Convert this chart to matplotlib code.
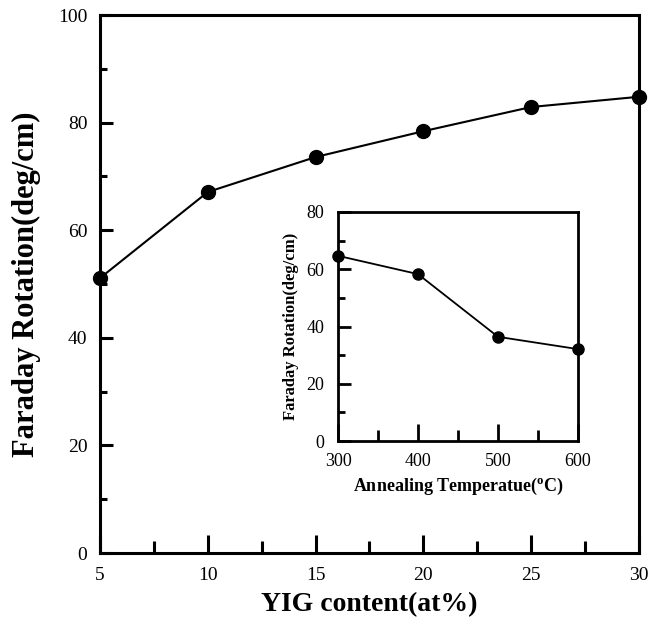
import numpy as np
import matplotlib.pyplot as plt
from matplotlib.ticker import MultipleLocator

plt.rcParams['font.family'] = ['Liberation Serif', 'DejaVu Serif']
plt.rcParams['mathtext.fontset'] = 'custom'
plt.rcParams['mathtext.rm'] = 'Liberation Serif'
plt.rcParams['mathtext.bf'] = 'Liberation Serif:bold'

# main data: YIG content vs Faraday rotation
yig = [5, 10, 15, 20, 25, 30]
rot = [51.1, 67.1, 73.6, 78.4, 82.9, 84.8]

# inset data: annealing temperature vs Faraday rotation
temp = [300, 400, 500, 600]
rot_t = [64.7, 58.3, 36.4, 32.1]

fig = plt.figure(figsize=(6.6, 6.28), dpi=100)
ax = fig.add_axes([100/660, 1-553/628, 539/660, 538/628])

ax.plot(yig, rot, '-o', color='black', lw=1.5, ms=10, clip_on=False, zorder=3)
ax.set_xlim(5, 30)
ax.set_ylim(0, 100)
ax.xaxis.set_major_locator(MultipleLocator(5))
ax.xaxis.set_minor_locator(MultipleLocator(2.5))
ax.yaxis.set_major_locator(MultipleLocator(20))
ax.yaxis.set_minor_locator(MultipleLocator(10))
ax.tick_params(which='both', direction='in', width=2.2, labelsize=14)
ax.tick_params(axis='x', which='major', length=13, pad=10)
ax.tick_params(axis='x', which='minor', length=9)
ax.tick_params(axis='y', which='major', length=9, pad=9)
ax.tick_params(axis='y', which='minor', length=5)
for s in ax.spines.values():
    s.set_linewidth(2.2)
ax.set_xlabel('YIG content(at%)', fontsize=20, fontweight='bold', labelpad=6)
ax.set_ylabel('Faraday Rotation(deg/cm)', fontsize=22, fontweight='bold', labelpad=12)

# inset
ins = fig.add_axes([338/660, 1-441/628, 240/660, 229/628])
ins.plot(temp, rot_t, '-o', color='black', lw=1.3, ms=8, clip_on=False, zorder=3)
ins.set_xlim(300, 600)
ins.set_ylim(0, 80)
ins.xaxis.set_major_locator(MultipleLocator(100))
ins.xaxis.set_minor_locator(MultipleLocator(50))
ins.yaxis.set_major_locator(MultipleLocator(20))
ins.yaxis.set_minor_locator(MultipleLocator(10))
ins.tick_params(which='both', direction='in', width=2, labelsize=13)
ins.tick_params(axis='x', which='major', length=12, pad=9)
ins.tick_params(axis='x', which='minor', length=8)
ins.tick_params(axis='y', which='major', length=9, pad=10)
ins.tick_params(axis='y', which='minor', length=5)
for s in ins.spines.values():
    s.set_linewidth(2)
ins.set_xlabel('Annealing Temperatue($^{\\mathbf{o}}$C)', fontsize=13, fontweight='bold', labelpad=4)
ins.set_ylabel('Faraday Rotation(deg/cm)', fontsize=12, fontweight='bold', labelpad=5)

fig.savefig('out.png', dpi=100)
